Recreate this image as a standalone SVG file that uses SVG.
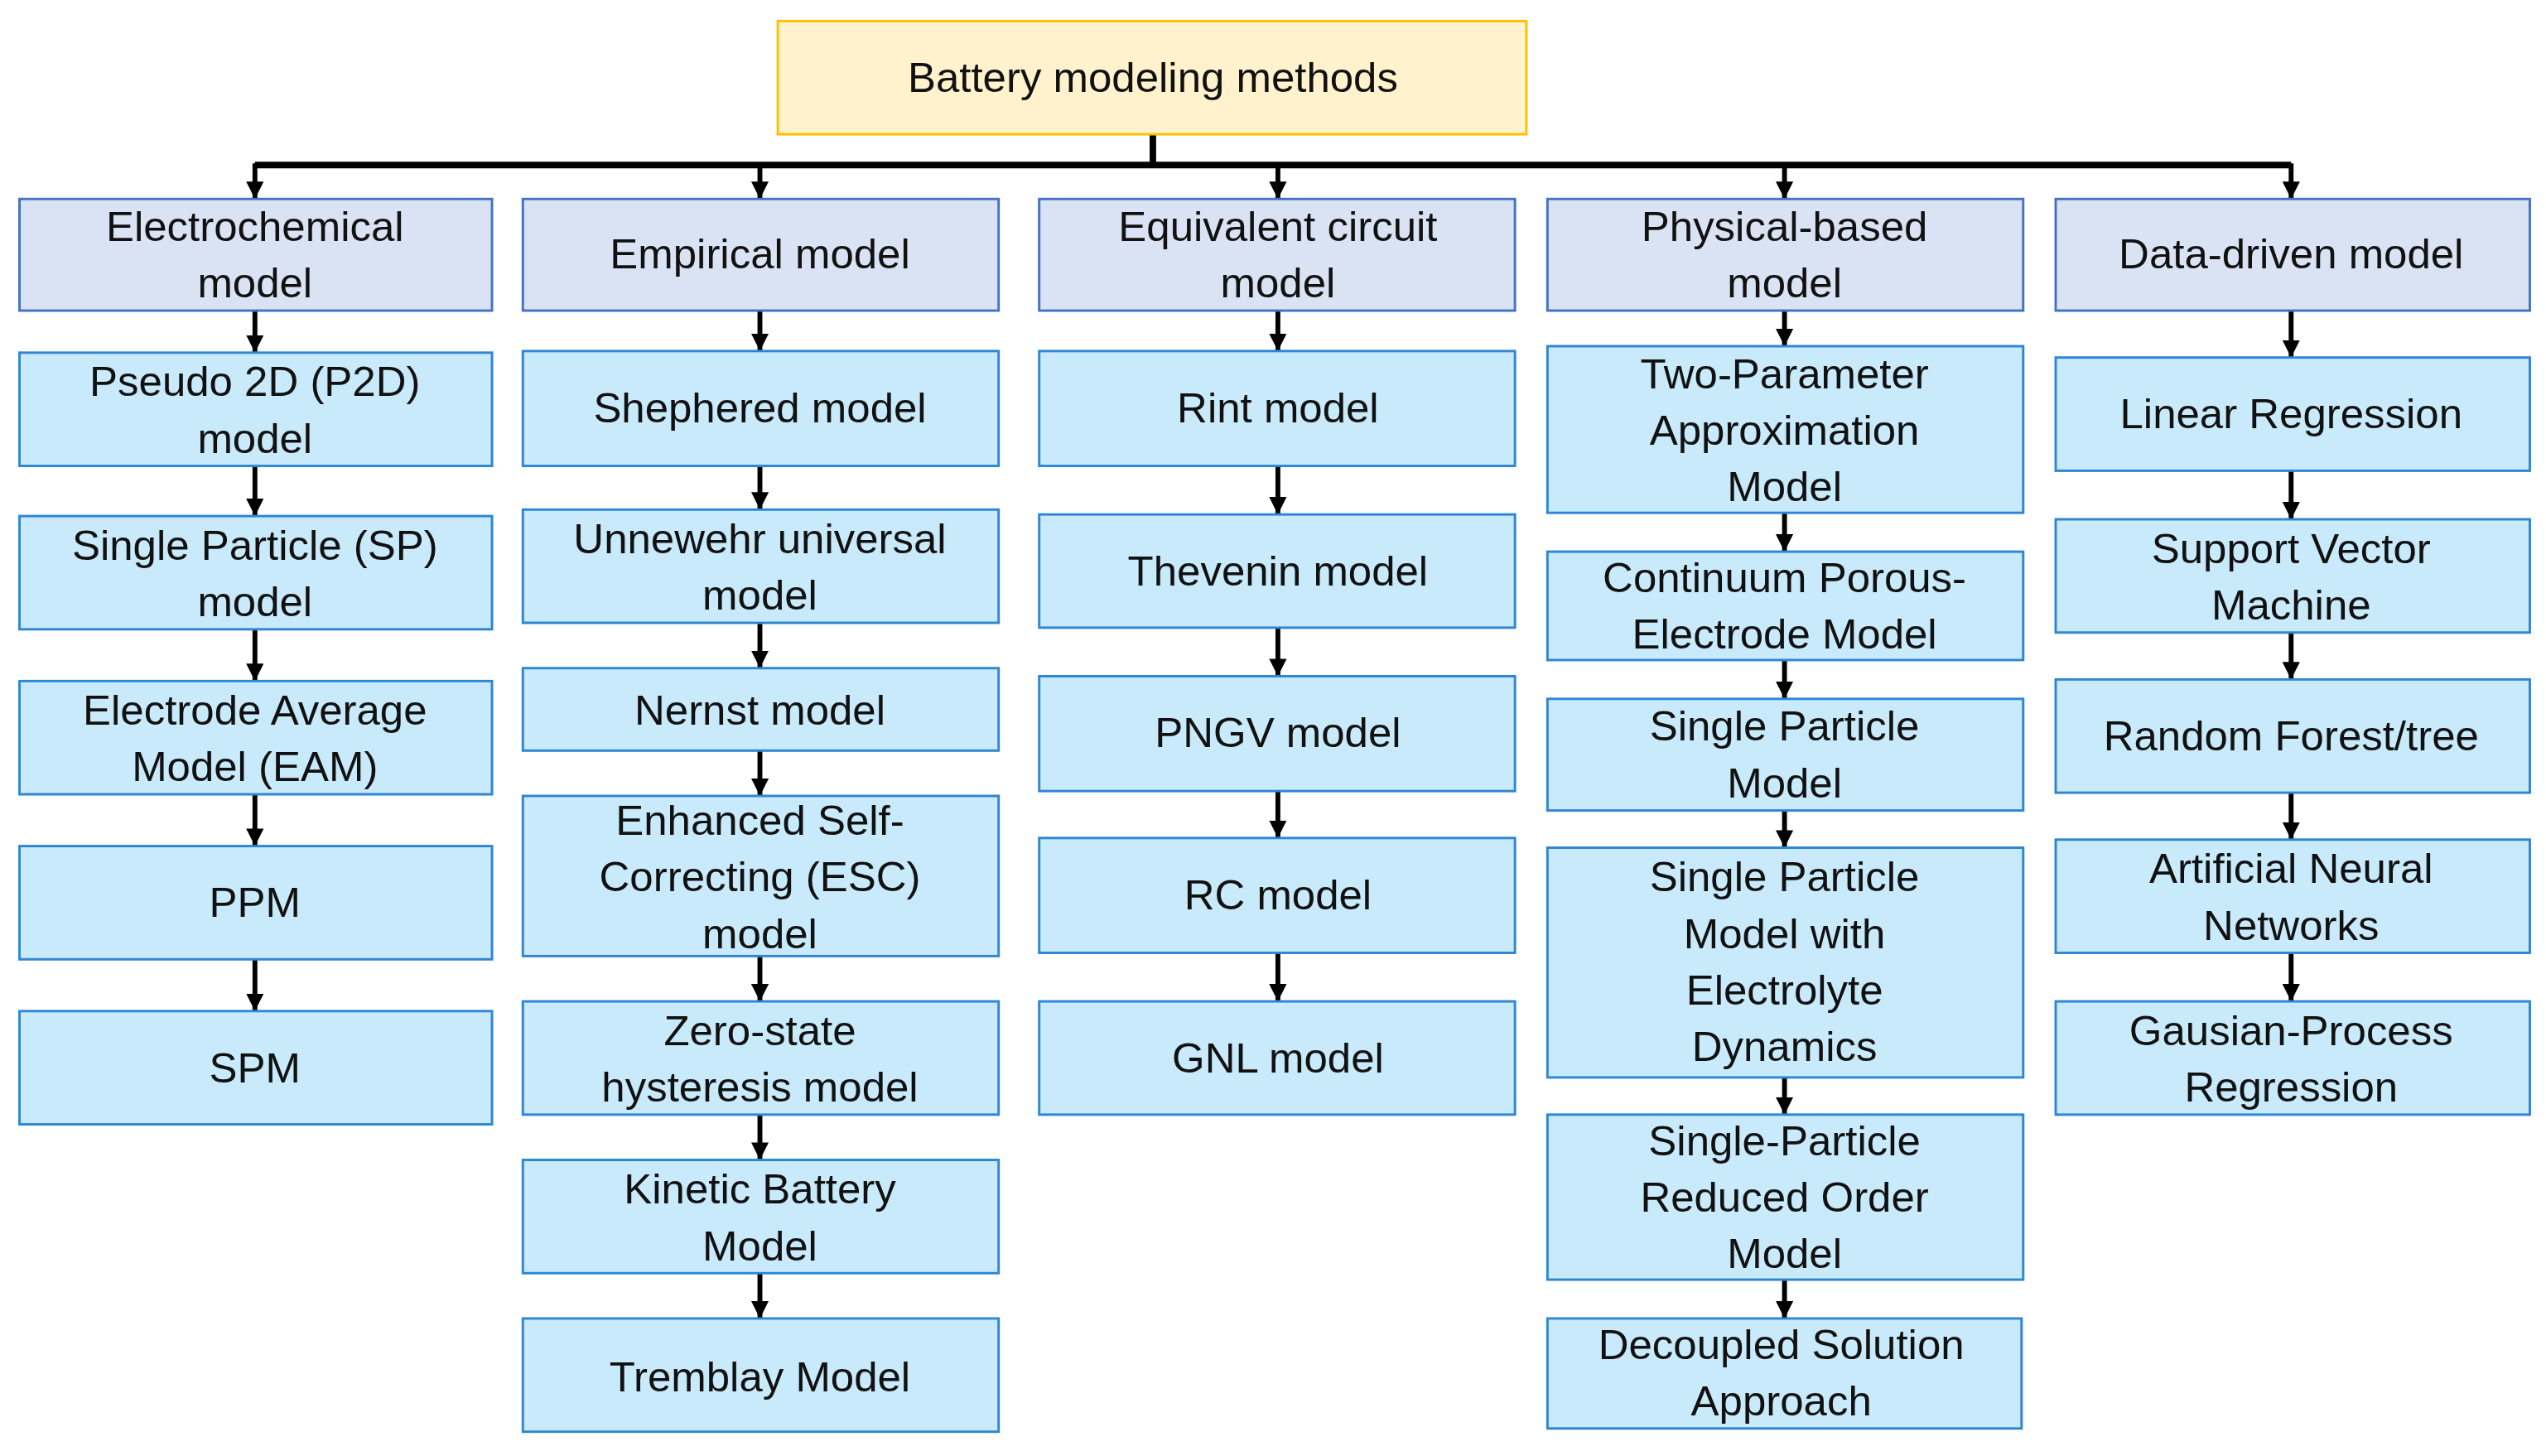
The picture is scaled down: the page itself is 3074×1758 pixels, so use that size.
<svg xmlns="http://www.w3.org/2000/svg" width="3074" height="1758" viewBox="0 0 3074 1758">
<style>
text{font-family:"Liberation Sans",Arial,sans-serif;font-size:26px;fill:#111;text-anchor:middle;dominant-baseline:central}
.t{fill:#fff2cc;stroke:#ffc000;stroke-width:1.5}
.h{fill:#dae3f3;stroke:#4472c4;stroke-width:1.5}
.c{fill:#c8eafb;stroke:#2e86d4;stroke-width:1.5}
.a{stroke:#000;stroke-width:3;fill:none;marker-end:url(#ah)}
</style>
<defs><marker id="ah" viewBox="0 0 10 10" refX="10" refY="5" markerWidth="3.6" markerHeight="3.6" orient="auto" markerUnits="strokeWidth"><path d="M0,0L10,5L0,10z" fill="#000"/></marker></defs>
<rect width="3074" height="1758" fill="#fff"/>
<g transform="scale(1.9605,1.9533)">
<g id="connectors">
<path d="M710,83V102" stroke="#000" stroke-width="4"/>
<path d="M157,102H1411" stroke="#000" stroke-width="4"/>
<path class="a" d="M157,101V123"/><path class="a" d="M468,101V123"/><path class="a" d="M787,101V123"/><path class="a" d="M1099,101V123"/><path class="a" d="M1411,101V123"/>
<path class="a" d="M157,192V218"/><path class="a" d="M157,288V319"/><path class="a" d="M157,389V421"/><path class="a" d="M157,491V523"/><path class="a" d="M157,593V625"/>
<path class="a" d="M468,192V217"/><path class="a" d="M468,288V315"/><path class="a" d="M468,385V413"/><path class="a" d="M468,464V492"/><path class="a" d="M468,591V619"/><path class="a" d="M468,689V717"/><path class="a" d="M468,787V815"/>
<path class="a" d="M787,192V217"/><path class="a" d="M787,288V318"/><path class="a" d="M787,388V418"/><path class="a" d="M787,489V518"/><path class="a" d="M787,589V619"/>
<path class="a" d="M1099,192V214"/><path class="a" d="M1099,317V341"/><path class="a" d="M1099,408V432"/><path class="a" d="M1099,501V524"/><path class="a" d="M1099,666V689"/><path class="a" d="M1099,791V815"/>
<path class="a" d="M1411,192V221"/><path class="a" d="M1411,291V321"/><path class="a" d="M1411,391V420"/><path class="a" d="M1411,490V519"/><path class="a" d="M1411,589V619"/>
</g>
<g id="root"><rect class="t" x="479" y="13" width="461" height="70"/><text x="710" y="48">Battery modeling methods</text></g>
<g id="electrochemical"><rect class="h" x="12" y="123" width="291" height="69"/><text x="157" y="140">Electrochemical</text><text x="157" y="175">model</text></g>
<g id="p2d"><rect class="c" x="12" y="218" width="291" height="70"/><text x="157" y="236">Pseudo 2D (P2D)</text><text x="157" y="271">model</text></g>
<g id="sp"><rect class="c" x="12" y="319" width="291" height="70"/><text x="157" y="337">Single Particle (SP)</text><text x="157" y="372">model</text></g>
<g id="eam"><rect class="c" x="12" y="421" width="291" height="70"/><text x="157" y="439">Electrode Average</text><text x="157" y="474">Model (EAM)</text></g>
<g id="ppm"><rect class="c" x="12" y="523" width="291" height="70"/><text x="157" y="558">PPM</text></g>
<g id="spm1"><rect class="c" x="12" y="625" width="291" height="70"/><text x="157" y="660">SPM</text></g>
<g id="empirical"><rect class="h" x="322" y="123" width="293" height="69"/><text x="468" y="157">Empirical model</text></g>
<g id="shephered"><rect class="c" x="322" y="217" width="293" height="71"/><text x="468" y="252">Shephered model</text></g>
<g id="unnewehr"><rect class="c" x="322" y="315" width="293" height="70"/><text x="468" y="333">Unnewehr universal</text><text x="468" y="368">model</text></g>
<g id="nernst"><rect class="c" x="322" y="413" width="293" height="51"/><text x="468" y="439">Nernst model</text></g>
<g id="esc"><rect class="c" x="322" y="492" width="293" height="99"/><text x="468" y="507">Enhanced Self-</text><text x="468" y="542">Correcting (ESC)</text><text x="468" y="577">model</text></g>
<g id="zerostate"><rect class="c" x="322" y="619" width="293" height="70"/><text x="468" y="637">Zero-state</text><text x="468" y="672">hysteresis model</text></g>
<g id="kinetic"><rect class="c" x="322" y="717" width="293" height="70"/><text x="468" y="735">Kinetic Battery</text><text x="468" y="770">Model</text></g>
<g id="tremblay"><rect class="c" x="322" y="815" width="293" height="70"/><text x="468" y="851">Tremblay Model</text></g>
<g id="ecm"><rect class="h" x="640" y="123" width="293" height="69"/><text x="787" y="140">Equivalent circuit</text><text x="787" y="175">model</text></g>
<g id="rint"><rect class="c" x="640" y="217" width="293" height="71"/><text x="787" y="252">Rint model</text></g>
<g id="thevenin"><rect class="c" x="640" y="318" width="293" height="70"/><text x="787" y="353">Thevenin model</text></g>
<g id="pngv"><rect class="c" x="640" y="418" width="293" height="71"/><text x="787" y="453">PNGV model</text></g>
<g id="rc"><rect class="c" x="640" y="518" width="293" height="71"/><text x="787" y="553">RC model</text></g>
<g id="gnl"><rect class="c" x="640" y="619" width="293" height="70"/><text x="787" y="654">GNL model</text></g>
<g id="physical"><rect class="h" x="953" y="123" width="293" height="69"/><text x="1099" y="140">Physical-based</text><text x="1099" y="175">model</text></g>
<g id="twoparam"><rect class="c" x="953" y="214" width="293" height="103"/><text x="1099" y="231">Two-Parameter</text><text x="1099" y="266">Approximation</text><text x="1099" y="301">Model</text></g>
<g id="continuum"><rect class="c" x="953" y="341" width="293" height="67"/><text x="1099" y="357">Continuum Porous-</text><text x="1099" y="392">Electrode Model</text></g>
<g id="spmodel"><rect class="c" x="953" y="432" width="293" height="69"/><text x="1099" y="449">Single Particle</text><text x="1099" y="484">Model</text></g>
<g id="spmed"><rect class="c" x="953" y="524" width="293" height="142"/><text x="1099" y="542">Single Particle</text><text x="1099" y="577">Model with</text><text x="1099" y="612">Electrolyte</text><text x="1099" y="647">Dynamics</text></g>
<g id="sprom"><rect class="c" x="953" y="689" width="293" height="102"/><text x="1099" y="705">Single-Particle</text><text x="1099" y="740">Reduced Order</text><text x="1099" y="775">Model</text></g>
<g id="decoupled"><rect class="c" x="953" y="815" width="292" height="68"/><text x="1097" y="831">Decoupled Solution</text><text x="1097" y="866">Approach</text></g>
<g id="datadriven"><rect class="h" x="1266" y="123" width="292" height="69"/><text x="1411" y="157">Data-driven model</text></g>
<g id="linreg"><rect class="c" x="1266" y="221" width="292" height="70"/><text x="1411" y="256">Linear Regression</text></g>
<g id="svm"><rect class="c" x="1266" y="321" width="292" height="70"/><text x="1411" y="339">Support Vector</text><text x="1411" y="374">Machine</text></g>
<g id="rf"><rect class="c" x="1266" y="420" width="292" height="70"/><text x="1411" y="455">Random Forest/tree</text></g>
<g id="ann"><rect class="c" x="1266" y="519" width="292" height="70"/><text x="1411" y="537">Artificial Neural</text><text x="1411" y="572">Networks</text></g>
<g id="gpr"><rect class="c" x="1266" y="619" width="292" height="70"/><text x="1411" y="637">Gausian-Process</text><text x="1411" y="672">Regression</text></g>
</g>
</svg>
